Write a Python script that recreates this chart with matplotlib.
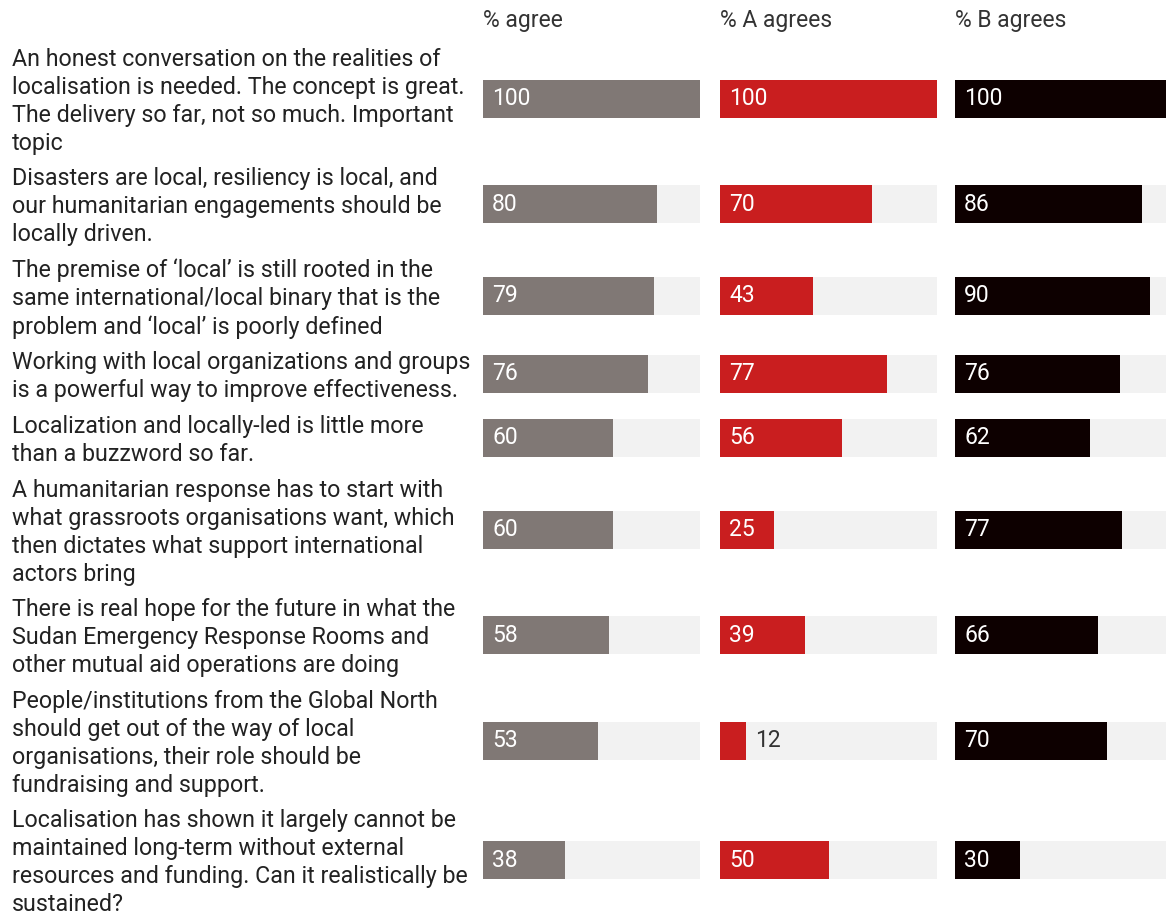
import matplotlib.pyplot as plt

plt.rcParams['font.family'] = ['Roboto', 'DejaVu Sans']

statements = [
    "An honest conversation on the realities of\nlocalisation is needed. The concept is great.\nThe delivery so far, not so much. Important\ntopic",
    "Disasters are local, resiliency is local, and\nour humanitarian engagements should be\nlocally driven.",
    "The premise of \u2018local\u2019 is still rooted in the\nsame international/local binary that is the\nproblem and \u2018local\u2019 is poorly defined",
    "Working with local organizations and groups\nis a powerful way to improve effectiveness.",
    "Localization and locally-led is little more\nthan a buzzword so far.",
    "A humanitarian response has to start with\nwhat grassroots organisations want, which\nthen dictates what support international\nactors bring",
    "There is real hope for the future in what the\nSudan Emergency Response Rooms and\nother mutual aid operations are doing",
    "People/institutions from the Global North\nshould get out of the way of local\norganisations, their role should be\nfundraising and support.",
    "Localisation has shown it largely cannot be\nmaintained long-term without external\nresources and funding. Can it realistically be\nsustained?",
]
agree = [100, 80, 79, 76, 60, 60, 58, 53, 38]
a_agrees = [100, 70, 43, 77, 56, 25, 39, 12, 50]
b_agrees = [100, 86, 90, 76, 62, 77, 66, 70, 30]
headers = ["% agree", "% A agrees", "% B agrees"]
colors = ["#807875", "#C91E1F", "#0D0000"]

W, H = 1166, 911
fig = plt.figure(figsize=(W / 100, H / 100), dpi=100)

# row layout in pixels: each row is as tall as its wrapped label
line_h = 27.75
gap = 8.5
first_line = 57
centers = []
y = first_line - line_h / 2
for s in statements:
    n = s.count("\n") + 1
    centers.append(y + n * line_h / 2)
    y += n * line_h + gap

for s, c in zip(statements, centers):
    fig.text(12 / W, 1 - (c + 2.5) / H, s, ha='left', va='center', fontsize=16.75,
             color='#222222', linespacing=1.28)

bar_h = 38
panel_x = [483, 720, 955]
panel_w = 217
series = [agree, a_agrees, b_agrees]

for px, head, col, vals in zip(panel_x, headers, colors, series):
    ax = fig.add_axes([px / W, 0, panel_w / W, 1])
    ax.set_xlim(0, 100)
    ax.set_ylim(H, 0)
    ax.axis('off')
    ax.barh(centers, [100] * len(vals), height=bar_h, color='#F2F2F2', clip_on=False)
    ax.barh(centers, vals, height=bar_h, color=col, clip_on=False)
    for v, c in zip(vals, centers):
        if v >= 20:
            ax.annotate(str(v), (0, c), xytext=(6.5, 0), textcoords='offset points',
                        ha='left', va='center', color='white', fontsize=16.5)
        else:
            ax.annotate(str(v), (v, c), xytext=(6.5, 0), textcoords='offset points',
                        ha='left', va='center', color='#333333', fontsize=16.5)
    fig.text(px / W, 1 - 20 / H, head, ha='left', va='center', fontsize=16.5,
             color='#333333')

fig.savefig('out.png', dpi=100)
